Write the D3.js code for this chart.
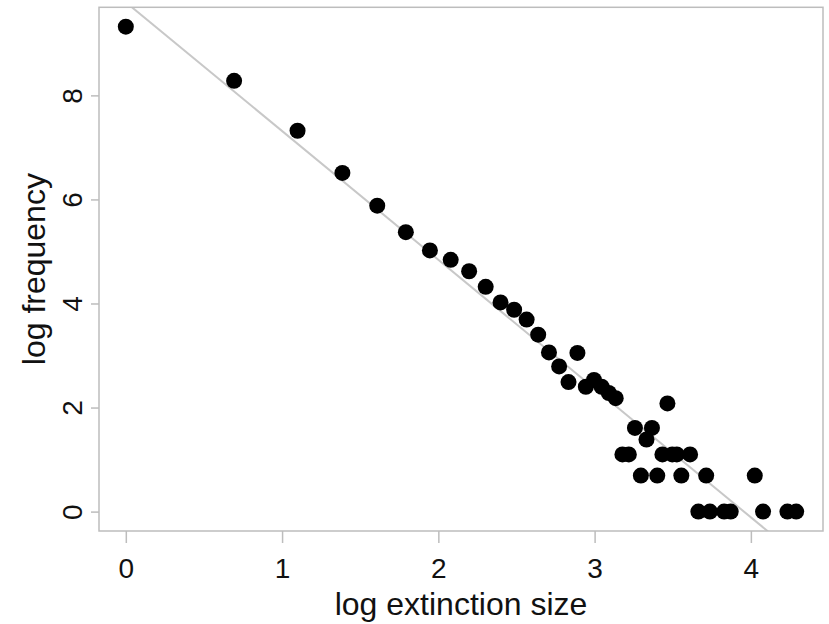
<!DOCTYPE html>
<html>
<head>
<meta charset="utf-8">
<script src="https://cdn.jsdelivr.net/npm/d3@7"></script>
<style>
  body { margin: 0; background: #fff; }
  #chart { width: 829px; height: 624px; }
</style>
</head>
<body>
<div id="chart"></div>
<script>
// log extinction size (log of size class) and log frequency
const logSize = [
  0, 0.693, 1.099, 1.386, 1.609, 1.792, 1.946, 2.079, 2.197, 2.303,
  2.398, 2.485, 2.565, 2.639, 2.708, 2.773, 2.833, 2.890, 2.944, 2.996,
  3.045, 3.091, 3.135, 3.178, 3.219, 3.258, 3.296, 3.332, 3.367, 3.401,
  3.434, 3.466, 3.497, 3.526, 3.555, 3.611, 3.664, 3.714, 3.738, 3.829,
  3.871, 4.025, 4.078, 4.234, 4.290
];
const logFreq = [
  9.32, 8.28, 7.32, 6.51, 5.88, 5.37, 5.02, 4.84, 4.62, 4.32,
  4.02, 3.88, 3.69, 3.40, 3.06, 2.79, 2.49, 3.05, 2.40, 2.53,
  2.40, 2.28, 2.18, 1.099, 1.099, 1.609, 0.693, 1.386, 1.609, 0.693,
  1.099, 2.079, 1.099, 1.099, 0.693, 1.099, 0, 0.693, 0, 0,
  0, 0.693, 0, 0, 0
];

// fitted line (intercept, slope)
const fitIntercept = 9.79;
const fitSlope = -2.475;

const xTicks = [0, 1, 2, 3, 4];
const yTicks = [0, 2, 4, 6, 8];

class ScatterVis {
  constructor(_parentElement) {
    this.parentElement = _parentElement;
    this.initVis();
  }

  initVis() {
    let vis = this;

    vis.width = 829;
    vis.height = 624;
    vis.plot = { left: 99, right: 823, top: 7.3, bottom: 531 };

    vis.svg = d3.select("#" + vis.parentElement).append("svg")
      .attr("width", vis.width)
      .attr("height", vis.height)
      .style("font-family", "'Liberation Sans', Arial, Helvetica, sans-serif");

    vis.wrangleData();
  }

  wrangleData() {
    let vis = this;
    vis.points = logSize.map((x, i) => ({ x: x, y: logFreq[i] }));

    // R style: pad the data range by 4% on each side
    let pad = ext => {
      let r = ext[1] - ext[0];
      return [ext[0] - 0.04 * r, ext[1] + 0.04 * r];
    };
    vis.xDomain = pad(d3.extent(logSize));
    vis.yDomain = pad(d3.extent(logFreq));

    vis.updateVis();
  }

  updateVis() {
    let vis = this;
    let p = vis.plot;

    vis.x = d3.scaleLinear().domain(vis.xDomain).range([p.left, p.right]);
    vis.y = d3.scaleLinear().domain(vis.yDomain).range([p.bottom, p.top]);

    // clip for the fit line
    vis.svg.append("clipPath").attr("id", "plotclip")
      .append("rect")
      .attr("x", p.left).attr("y", p.top)
      .attr("width", p.right - p.left).attr("height", p.bottom - p.top);

    // fitted line
    let x0 = vis.xDomain[0], x1 = vis.xDomain[1];
    vis.svg.append("line")
      .attr("clip-path", "url(#plotclip)")
      .attr("x1", vis.x(x0)).attr("y1", vis.y(fitIntercept + fitSlope * x0))
      .attr("x2", vis.x(x1)).attr("y2", vis.y(fitIntercept + fitSlope * x1))
      .attr("stroke", "#c8c8c8")
      .attr("stroke-width", 2);

    // points
    vis.svg.append("g")
      .selectAll("circle")
      .data(vis.points)
      .join("circle")
      .attr("cx", d => vis.x(d.x))
      .attr("cy", d => vis.y(d.y))
      .attr("r", 8)
      .attr("fill", "#000");

    // box
    vis.svg.append("rect")
      .attr("x", p.left).attr("y", p.top)
      .attr("width", p.right - p.left).attr("height", p.bottom - p.top)
      .attr("fill", "none")
      .attr("stroke", "#bdbdbd")
      .attr("stroke-width", 1.5);

    // x axis
    let xAxis = vis.svg.append("g")
      .attr("transform", "translate(0," + p.bottom + ")")
      .call(d3.axisBottom(vis.x).tickValues(xTicks).tickSize(12).tickPadding(4).tickFormat(d3.format("d")));
    xAxis.select(".domain").remove();
    xAxis.selectAll(".tick line").attr("stroke", "#bdbdbd").attr("stroke-width", 1.5);
    xAxis.selectAll(".tick text")
      .attr("y", 47).attr("dy", 0)
      .style("font-size", "28px")
      .attr("fill", "#111");

    // y axis
    let yAxis = vis.svg.append("g")
      .attr("transform", "translate(" + p.left + ",0)")
      .call(d3.axisLeft(vis.y).tickValues(yTicks).tickSize(8).tickFormat(d3.format("d")));
    yAxis.select(".domain").remove();
    yAxis.selectAll(".tick line").attr("stroke", "#bdbdbd").attr("stroke-width", 1.5);
    yAxis.selectAll(".tick text")
      .attr("x", 0).attr("dy", 0)
      .attr("text-anchor", "middle")
      .attr("transform", "translate(-17,0) rotate(-90)")
      .style("font-size", "28px")
      .attr("fill", "#111");

    // axis titles
    vis.svg.append("text")
      .attr("x", (p.left + p.right) / 2)
      .attr("y", 615)
      .attr("text-anchor", "middle")
      .style("font-size", "32px")
      .attr("fill", "#111")
      .text("log extinction size");

    vis.svg.append("text")
      .attr("transform", "translate(45," + (p.top + p.bottom) / 2 + ") rotate(-90)")
      .attr("text-anchor", "middle")
      .style("font-size", "32px")
      .attr("fill", "#111")
      .text("log frequency");
  }
}

new ScatterVis("chart");
</script>
</body>
</html>
